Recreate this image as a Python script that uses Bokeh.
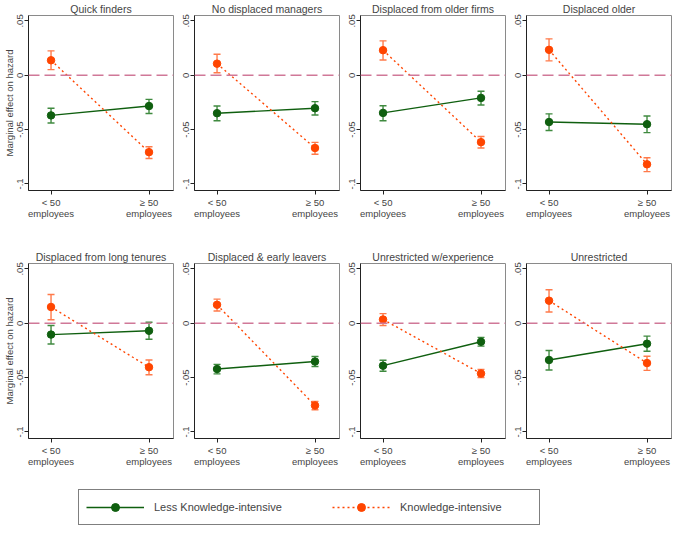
from bokeh.plotting import figure
from bokeh.layouts import column, row
from bokeh.models import (ColumnDataSource, Whisker, TeeHead, Range1d, FixedTicker,
                          Span, Legend, LegendItem)
from bokeh.embed import file_html
from bokeh.resources import INLINE

# ---------------- data ----------------
titles = ["Quick finders", "No displaced managers", "Displaced from older firms", "Displaced older",
          "Displaced from long tenures", "Displaced & early leavers", "Unrestricted w/experience",
          "Unrestricted"]
size_cats = [1, 2]
size_labels = ["< 50\nemployees", "\u2265 50\nemployees"]

less_est = [[-0.0369, -0.0283], [-0.0349, -0.0303], [-0.0346, -0.0208], [-0.0430, -0.0450],
            [-0.0104, -0.0069], [-0.0421, -0.0352], [-0.0390, -0.0170], [-0.0338, -0.0188]]
less_lo = [[-0.0439, -0.0352], [-0.0418, -0.0366], [-0.0418, -0.0274], [-0.0508, -0.0528],
           [-0.0190, -0.0147], [-0.0465, -0.0398], [-0.0441, -0.0210], [-0.0430, -0.0257]]
less_hi = [[-0.0303, -0.0222], [-0.0283, -0.0242], [-0.0280, -0.0147], [-0.0355, -0.0375],
           [-0.0020, 0.0009], [-0.0378, -0.0306], [-0.0340, -0.0130], [-0.0251, -0.0118]]

know_est = [[0.0138, -0.0707], [0.0107, -0.0669], [0.0231, -0.0615], [0.0234, -0.0819],
            [0.0150, -0.0404], [0.0170, -0.0756], [0.0035, -0.0462], [0.0208, -0.0366]]
know_lo = [[0.0052, -0.0765], [0.0023, -0.0727], [0.0141, -0.0669], [0.0133, -0.0886],
           [0.0032, -0.0473], [0.0113, -0.0796], [-0.0020, -0.0499], [0.0104, -0.0433]]
know_hi = [[0.0225, -0.0658], [0.0193, -0.0617], [0.0317, -0.0563], [0.0335, -0.0759],
           [0.0265, -0.0338], [0.0222, -0.0718], [0.0089, -0.0424], [0.0309, -0.0303]]

y_ticks = [-0.1, -0.05, 0, 0.05]
y_tick_labels = ["-.1", "-.05", "0", ".05"]
series_names = ["Less Knowledge-intensive", "Knowledge-intensive"]

# ---------------- style ----------------
FONT = "Liberation Sans"
GREEN = "#0f5f0f"
GREEN_CI = "#3f8a3f"
ORANGE = "#ff4500"
ORANGE_CI = "#ff7a4a"
ZERO = "#d07898"

FRAME_W = 145
FRAME_H = 178


def make_panel(i):
    first_col = (i % 4 == 0)
    top_row = i < 4
    left = 28 if first_col else 20
    bottom = 58 if top_row else 50
    top = 12
    p = figure(width=left + FRAME_W + 1, height=top + FRAME_H + bottom,
               output_backend="svg", toolbar_location=None,
               x_range=Range1d(0.77, 2.25), y_range=Range1d(-0.106, 0.055),
               min_border_left=left, min_border_right=1,
               min_border_top=top, min_border_bottom=bottom)
    p.title.text = titles[i]
    p.title.align = "center"
    p.title.text_font = FONT
    p.title.text_font_size = "10.5px"
    p.title.text_font_style = "normal"
    p.title.standoff = 1
    p.title.offset = 0
    p.background_fill_color = "white"
    p.border_fill_color = "white"
    p.outline_line_color = "#8a8a8a"
    p.outline_line_width = 1
    p.xgrid.visible = False
    p.ygrid.visible = False

    # axes
    p.xaxis.ticker = FixedTicker(ticks=size_cats)
    p.xaxis.major_label_overrides = {c: l for c, l in zip(size_cats, size_labels)}
    p.xaxis.minor_tick_line_color = None
    p.xaxis.major_tick_out = 4
    p.xaxis.major_tick_in = 0
    p.xaxis.major_label_standoff = 2
    p.xaxis.major_label_text_font = FONT
    p.xaxis.major_label_text_font_size = "9.5px"
    p.xaxis.major_label_text_line_height = 1.0
    p.xaxis.axis_line_color = "#222222"
    p.xaxis.major_tick_line_color = "#222222"

    p.yaxis.ticker = FixedTicker(ticks=y_ticks)
    p.yaxis.major_label_overrides = {t: l for t, l in zip(y_ticks, y_tick_labels)}
    p.yaxis.minor_tick_line_color = None
    p.yaxis.major_tick_out = 4
    p.yaxis.major_tick_in = 0
    p.yaxis.major_label_standoff = 1
    p.yaxis.major_label_orientation = "vertical"
    p.yaxis.major_label_text_font = FONT
    p.yaxis.major_label_text_font_size = "9.5px"
    p.yaxis.axis_line_color = "#222222"
    p.yaxis.major_tick_line_color = "#222222"
    if first_col:
        p.yaxis.axis_label = "Marginal effect on hazard"
        p.yaxis.axis_label_text_font = FONT
        p.yaxis.axis_label_text_font_size = "9.5px"
        p.yaxis.axis_label_text_font_style = "normal"
        p.yaxis.axis_label_standoff = 0

    # zero line
    p.add_layout(Span(location=0, dimension="width", line_color=ZERO,
                      line_width=1.6, line_dash="11 5"))

    # series
    src_l = ColumnDataSource(dict(x=size_cats, y=less_est[i], lo=less_lo[i], hi=less_hi[i]))
    src_k = ColumnDataSource(dict(x=size_cats, y=know_est[i], lo=know_lo[i], hi=know_hi[i]))

    p.line("x", "y", source=src_l, line_color=GREEN, line_width=1.4)
    p.line("x", "y", source=src_k, line_color=ORANGE, line_width=1.4, line_dash="2 3")

    for src, col in ((src_l, GREEN_CI), (src_k, ORANGE_CI)):
        w = Whisker(source=src, base="x", upper="hi", lower="lo", dimension="height",
                    line_color=col, line_width=1.4,
                    upper_head=TeeHead(size=7, line_color=col, line_width=1.4),
                    lower_head=TeeHead(size=7, line_color=col, line_width=1.4))
        p.add_layout(w)

    p.scatter("x", "y", source=src_l, size=7.5, fill_color=GREEN, line_color=GREEN)
    p.scatter("x", "y", source=src_k, size=7.5, fill_color=ORANGE, line_color=ORANGE)
    return p


panels = [make_panel(i) for i in range(8)]

# ---------------- legend figure ----------------
# the legend's own renderers hold the first panel's values but sit outside its visible range
lf = figure(width=669, height=39, output_backend="svg", toolbar_location=None,
            x_range=Range1d(10, 11), y_range=Range1d(10, 11),
            min_border=0, outline_line_color=None)
lf.axis.visible = False
lf.xgrid.visible = False
lf.ygrid.visible = False
leg_l = ColumnDataSource(dict(x=size_cats, y=less_est[0]))
leg_k = ColumnDataSource(dict(x=size_cats, y=know_est[0]))
l1 = lf.line("x", "y", source=leg_l, line_color=GREEN, line_width=1.4)
m1 = lf.scatter("x", "y", source=leg_l, size=9, fill_color=GREEN, line_color=GREEN)
l2 = lf.line("x", "y", source=leg_k, line_color=ORANGE, line_width=1.4, line_dash="2 3")
m2 = lf.scatter("x", "y", source=leg_k, size=9, fill_color=ORANGE, line_color=ORANGE)
legend = Legend(items=[LegendItem(label=series_names[0], renderers=[l1, m1], index=0),
                       LegendItem(label=series_names[1], renderers=[l2, m2], index=0)],
                orientation="horizontal", location=(78, 2),
                glyph_width=58, glyph_height=20, label_standoff=10,
                label_width=132, spacing=46, padding=7, margin=0,
                label_text_font=FONT, label_text_font_size="11px",
                border_line_color="black", border_line_width=1,
                background_fill_color="white", background_fill_alpha=1)
lf.add_layout(legend, "center")

layout = column(row(*panels[:4], spacing=0), row(*panels[4:], spacing=0), lf, spacing=0)

with open("out.html", "w") as f:
    f.write(file_html(layout, INLINE))
